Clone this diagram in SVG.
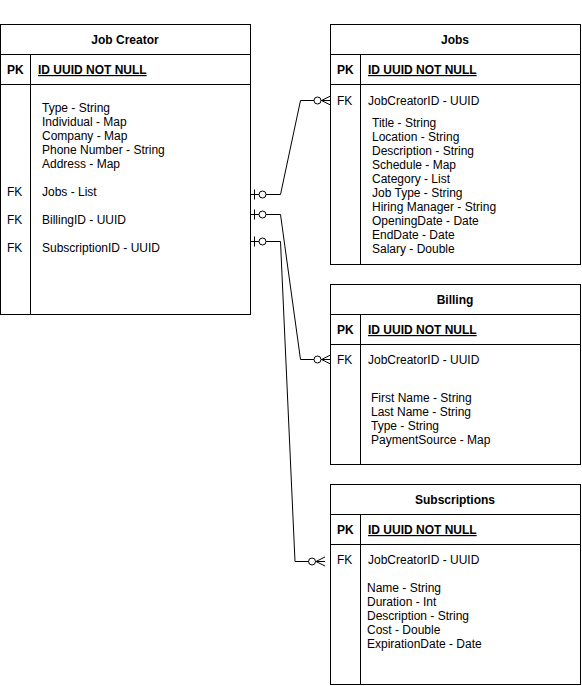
<svg xmlns="http://www.w3.org/2000/svg" width="582" height="686" viewBox="0 0 582 686">
<style>
.box{fill:#fff;stroke:#000;stroke-width:1}
.ln{fill:none;stroke:#000;stroke-width:1}
text{font-family:"Liberation Sans",Arial,Helvetica,sans-serif;font-size:12px;fill:#000}
.title{font-weight:bold;text-anchor:middle}
.b{font-weight:bold}
.u{font-weight:bold;text-decoration:underline}
.conn{fill:none;stroke:#000;stroke-width:1}
</style>
<defs>
<marker id="zeroOne" markerUnits="userSpaceOnUse" markerWidth="20" markerHeight="14" refX="0" refY="7" orient="auto" overflow="visible">
<path d="M4,2 V12" fill="none" stroke="#000"/>
<circle cx="12" cy="7" r="3.5" fill="#fff" stroke="#000"/>
</marker>
<marker id="zeroMany" markerUnits="userSpaceOnUse" markerWidth="20" markerHeight="14" refX="18" refY="7" orient="auto" overflow="visible">
<path d="M9,7 L18,2.5 M9,7 L18,11.5" fill="none" stroke="#000"/>
<circle cx="5" cy="7" r="3.5" fill="#fff" stroke="#000"/>
</marker>
</defs>
<rect width="582" height="686" fill="#fff"/>

<g id="connectors">
<path class="conn" d="M250.5,194.5 H280.5 L300.5,100.5 H330.5" marker-start="url(#zeroOne)" marker-end="url(#zeroMany)"/>
<path class="conn" d="M250.5,214.5 H280.5 L300.5,359.5 H330.5" marker-start="url(#zeroOne)" marker-end="url(#zeroMany)"/>
<path class="conn" d="M250.5,241.5 H280.5 L295,561.5 H325" marker-start="url(#zeroOne)" marker-end="url(#zeroMany)"/>
</g>

<g id="job-creator">
<rect class="box" x="0.5" y="24.5" width="250" height="290"/>
<path class="ln" d="M0.5,54.5 H250.5 M0.5,84.5 H250.5 M30.5,54.5 V314.5"/>
<text class="title" x="125" y="44">Job Creator</text>
<text class="b" x="7" y="74">PK</text>
<text class="u" x="38" y="74">ID UUID NOT NULL</text>
<text x="42" y="112">Type - String</text>
<text x="42" y="126">Individual - Map</text>
<text x="42" y="140">Company - Map</text>
<text x="42" y="154">Phone Number - String</text>
<text x="42" y="168">Address - Map</text>
<text x="7" y="196">FK</text>
<text x="42" y="196">Jobs - List</text>
<text x="7" y="224">FK</text>
<text x="42" y="224">BillingID - UUID</text>
<text x="7" y="252">FK</text>
<text x="42" y="252">SubscriptionID - UUID</text>
</g>

<g id="jobs">
<rect class="box" x="330.5" y="24.5" width="250" height="240"/>
<path class="ln" d="M330.5,54.5 H580.5 M330.5,84.5 H580.5 M360.5,54.5 V264.5"/>
<text class="title" x="455" y="44">Jobs</text>
<text class="b" x="337" y="74">PK</text>
<text class="u" x="368" y="74">ID UUID NOT NULL</text>
<text x="337" y="105">FK</text>
<text x="368" y="105">JobCreatorID - UUID</text>
<text x="372" y="127">Title - String</text>
<text x="372" y="141">Location - String</text>
<text x="372" y="155">Description - String</text>
<text x="372" y="169">Schedule - Map</text>
<text x="372" y="183">Category - List</text>
<text x="372" y="197">Job Type - String</text>
<text x="372" y="211">Hiring Manager - String</text>
<text x="372" y="225">OpeningDate - Date</text>
<text x="372" y="239">EndDate - Date</text>
<text x="372" y="253">Salary - Double</text>
</g>

<g id="billing">
<rect class="box" x="330.5" y="284.5" width="250" height="180"/>
<path class="ln" d="M330.5,314.5 H580.5 M330.5,344.5 H580.5 M360.5,314.5 V464.5"/>
<text class="title" x="455" y="304">Billing</text>
<text class="b" x="337" y="334">PK</text>
<text class="u" x="368" y="334">ID UUID NOT NULL</text>
<text x="337" y="364">FK</text>
<text x="368" y="364">JobCreatorID - UUID</text>
<text x="371" y="402">First Name - String</text>
<text x="371" y="416">Last Name - String</text>
<text x="371" y="430">Type - String</text>
<text x="371" y="444">PaymentSource - Map</text>
</g>

<g id="subscriptions">
<rect class="box" x="330.5" y="484.5" width="250" height="200"/>
<path class="ln" d="M330.5,514.5 H580.5 M330.5,544.5 H580.5 M360.5,514.5 V684.5"/>
<text class="title" x="455" y="504">Subscriptions</text>
<text class="b" x="337" y="534">PK</text>
<text class="u" x="368" y="534">ID UUID NOT NULL</text>
<text x="337" y="564">FK</text>
<text x="368" y="564">JobCreatorID - UUID</text>
<text x="367" y="592">Name - String</text>
<text x="367" y="606">Duration - Int</text>
<text x="367" y="620">Description - String</text>
<text x="367" y="634">Cost - Double</text>
<text x="367" y="648">ExpirationDate - Date</text>
</g>
</svg>
